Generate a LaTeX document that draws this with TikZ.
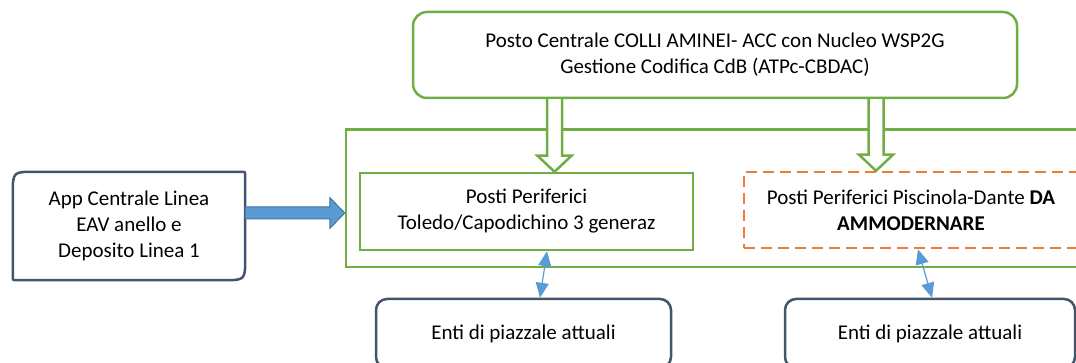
\documentclass[tikz,border=0pt]{standalone}
\usepackage{fontspec}
\setmainfont{Carlito}
\usetikzlibrary{arrows.meta,calc}
\definecolor{grn}{HTML}{70AD47}
\definecolor{org}{HTML}{ED7D31}
\definecolor{dkb}{HTML}{44546A}
\definecolor{blu}{HTML}{5B9BD5}
\definecolor{bluedge}{HTML}{41719C}
\begin{document}
\begin{tikzpicture}[x=1pt,y=-1pt,
  txt/.style={font=\fontsize{21}{26}\selectfont, align=center, inner sep=0pt},
  greenbox/.style={txt, draw=grn, line width=2.5pt},
  orangebox/.style={txt, draw=org, line width=2.5pt, dash pattern=on 11pt off 6pt},
  darkbox/.style={txt, draw=dkb, line width=2.5pt, rounded corners=11pt},
  hollowarrow/.style={draw=grn, fill=white, line width=2.5pt, line join=miter},
  fatarrow/.style={draw=bluedge, fill=blu, line width=1pt, line join=miter},
  dblarrow/.style={draw=blu, line width=1.2pt, {Triangle[length=15pt,width=13pt]}-{Triangle[length=15pt,width=13pt]}}
]
\useasboundingbox (0,0) rectangle (1076,363);

% container
\node[greenbox, minimum width=739pt, minimum height=137.5pt] (C) at (715.5,198.25) {};

% top box
\node[greenbox, rounded corners=14pt, minimum width=604pt, minimum height=86pt] (T) at (715,55)
  {Posto Centrale COLLI AMINEI- ACC con Nucleo WSP2G\\Gestione Codifica CdB (ATPc-CBDAC)};

% inner boxes
\node[greenbox, minimum width=333pt, minimum height=77pt] (P1) at (526.5,211.5)
  {Posti Periferici\\Toledo/Capodichino 3 generaz};
\node[orangebox, minimum width=334pt, minimum height=76pt] (P2) at (911,210)
  {Posti Periferici Piscinola-Dante \textbf{DA}\\\textbf{AMMODERNARE}};

% bottom boxes
\node[darkbox, minimum width=295pt, minimum height=69pt] (B1) at (523.5,333.5) {Enti di piazzale attuali};
\node[darkbox, minimum width=290pt, minimum height=69pt] (B2) at (930,333.5) {Enti di piazzale attuali};

% left box (round diagonal corners)
\node[txt, minimum width=232pt, minimum height=108pt] (L) at (129,226)
  {App Centrale Linea\\EAV anello e\\Deposito Linea 1};
\draw[dkb, line width=2.5pt]
  ($(L.north west)+(0,22)$) .. controls (L.north west) .. ($(L.north west)+(22,0)$)
  -- ($(L.north east)+(-4,0)$) .. controls (L.north east) .. ($(L.north east)+(0,4)$)
  -- ($(L.south east)+(0,-22)$) .. controls (L.south east) .. ($(L.south east)+(-22,0)$)
  -- ($(L.south west)+(4,0)$) .. controls (L.south west) .. ($(L.south west)+(0,-4)$)
  -- cycle;

% hollow arrows from top box
\coordinate (h1) at (554.5,0);
\coordinate (t1) at (h1 |- T.south);
\coordinate (p1) at (h1 |- P1.north);
\draw[hollowarrow] ($(t1)+(-7.5,0)$) -- ($(p1)+(-7.5,-16)$) -- ($(p1)+(-17,-16)$) -- (p1)
  -- ($(p1)+(17,-16)$) -- ($(p1)+(7.5,-16)$) -- ($(t1)+(7.5,0)$);
\coordinate (h2) at (876,0);
\coordinate (t2) at (h2 |- T.south);
\coordinate (p2) at (h2 |- P2.north);
\draw[hollowarrow] ($(t2)+(-7.5,0)$) -- ($(p2)+(-7.5,-16)$) -- ($(p2)+(-17,-16)$) -- (p2)
  -- ($(p2)+(17,-16)$) -- ($(p2)+(7.5,-16)$) -- ($(t2)+(7.5,0)$);

% fat blue arrow
\coordinate (ba) at (0,213);
\coordinate (bs) at (L.east |- ba);
\coordinate (be) at (C.west |- ba);
\draw[fatarrow] ($(bs)+(0,-6)$) -- ($(be)+(-15,-6)$) -- ($(be)+(-15,-15.5)$) -- (be)
  -- ($(be)+(-15,15.5)$) -- ($(be)+(-15,6)$) -- ($(bs)+(0,6)$) -- cycle;

% double arrows
\coordinate (d1a) at (540,0);
\coordinate (d1b) at (547,0);
\draw[dblarrow] (d1a |- B1.north) -- (d1b |- P1.south);
\coordinate (d2a) at (932,0);
\coordinate (d2b) at (918,0);
\draw[dblarrow] (d2a |- B2.north) -- (d2b |- P2.south);
\end{tikzpicture}
\end{document}
